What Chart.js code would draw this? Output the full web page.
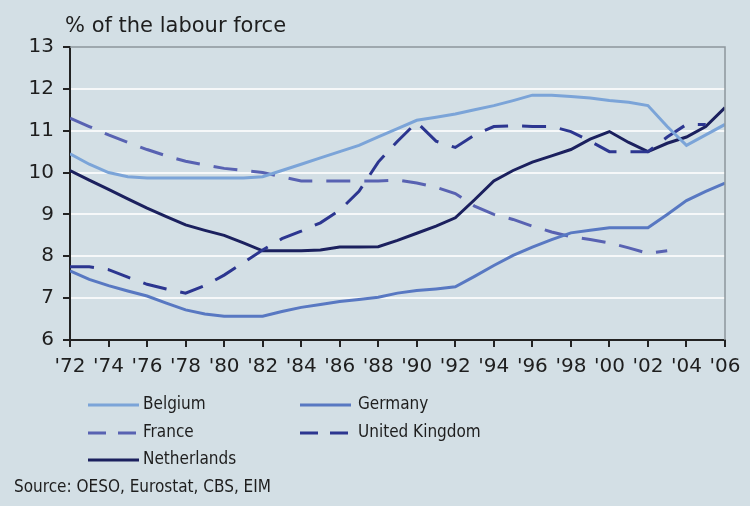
<!DOCTYPE html>
<html>
<head>
<meta charset="utf-8">
<title>Self-employment, % of the labour force</title>
<script src="https://cdn.jsdelivr.net/npm/chart.js@4.4.1/dist/chart.umd.min.js"></script>
<style>
    html, body { margin: 0; padding: 0; background: #d3dfe5; }
    #chart_container { width: 750px; height: 506px; }
</style>
</head>
<body>
<div id="chart_container"><canvas id="labour_chart" width="750" height="506"></canvas></div>
<script>
// years on the x axis (one point per year)
const years = [1972, 1973, 1974, 1975, 1976, 1977, 1978, 1979, 1980, 1981, 1982, 1983,
    1984, 1985, 1986, 1987, 1988, 1989, 1990, 1991, 1992, 1993, 1994, 1995, 1996, 1997,
    1998, 1999, 2000, 2001, 2002, 2003, 2004, 2005, 2006];

// % of the labour force per country
const belgium = [10.45, 10.2, 10.0, 9.9, 9.87, 9.87, 9.87, 9.87, 9.87, 9.87, 9.9, 10.05,
    10.2, 10.35, 10.5, 10.65, 10.85, 11.05, 11.25, 11.32, 11.4, 11.5, 11.6, 11.72, 11.85, 11.85,
    11.82, 11.78, 11.72, 11.68, 11.6, 11.1, 10.65, 10.9, 11.15];
const germany = [7.65, 7.45, 7.3, 7.17, 7.05, 6.88, 6.72, 6.62, 6.57, 6.57, 6.57, 6.68,
    6.78, 6.85, 6.92, 6.97, 7.02, 7.12, 7.18, 7.22, 7.27, 7.52, 7.78, 8.02, 8.22, 8.4,
    8.56, 8.62, 8.68, 8.68, 8.68, 9.0, 9.33, 9.55, 9.75];
const france = [11.3, 11.1, 10.9, 10.72, 10.55, 10.4, 10.27, 10.18, 10.1, 10.05, 10.0, 9.9,
    9.8, 9.8, 9.8, 9.8, 9.8, 9.82, 9.75, 9.65, 9.5, 9.2, 9.0, 8.88, 8.72, 8.58,
    8.47, 8.4, 8.32, 8.2, 8.07, 8.13, null, null, null];
const unitedKingdom = [7.75, 7.75, 7.68, 7.5, 7.33, 7.22, 7.12, 7.3, 7.55, 7.85, 8.15, 8.42,
    8.6, 8.8, 9.1, 9.55, 10.25, 10.75, 11.2, 10.75, 10.6, 10.9, 11.1, 11.12, 11.1, 11.1,
    10.98, 10.75, 10.5, 10.5, 10.5, 10.85, 11.15, 11.15, null];
const netherlands = [10.05, 9.82, 9.6, 9.37, 9.15, 8.95, 8.75, 8.62, 8.5, 8.32, 8.13, 8.13,
    8.13, 8.15, 8.22, 8.22, 8.23, 8.38, 8.55, 8.72, 8.92, 9.35, 9.8, 10.05, 10.25, 10.4,
    10.55, 10.8, 10.98, 10.72, 10.5, 10.7, 10.85, 11.1, 11.55];

const yTicks = [6, 7, 8, 9, 10, 11, 12, 13];
const chartTitle = "% of the labour force";
const sourceText = "Source: OESO, Eurostat, CBS, EIM";

const font_family = "'DejaVu Sans', Verdana, sans-serif";
const legend_family = "'DejaVu Sans Condensed', 'DejaVu Sans', sans-serif";
const dashPattern = [24, 14];

function toPoints(values) {
    return years.map((yr, i) => ({ x: yr, y: values[i] }));
}

function makeSet(label, values, color, dashed) {
    return {
        label: label,
        data: toPoints(values),
        borderColor: color,
        backgroundColor: color,
        borderWidth: 3,
        borderDash: dashed ? dashPattern : [],
        pointRadius: 0,
        tension: 0,
        spanGaps: false,
    };
}

// legend slots: [dataset index, line start x, text x, baseline y]
const legendSlots = [
    [0, 88, 143, 405],
    [1, 300, 358, 405],
    [2, 88, 143, 433],
    [3, 300, 358, 433],
    [4, 88, 143, 460],
];

// title above the axis, legend and source below it
const annotationsPlugin = {
    id: "annotations",
    afterDraw(chart) {
        const ctx = chart.ctx;
        const area = chart.chartArea;
        ctx.save();

        // grey frame on top and right of the plot
        ctx.strokeStyle = "#8d979c";
        ctx.lineWidth = 1.5;
        ctx.beginPath();
        ctx.moveTo(area.left, area.top);
        ctx.lineTo(area.right, area.top);
        ctx.lineTo(area.right, area.bottom);
        ctx.stroke();

        ctx.fillStyle = "#1e1e1e";
        ctx.font = "21px " + font_family;
        ctx.textBaseline = "middle";
        ctx.fillText(chartTitle, 65, 27);

        ctx.font = "17px " + legend_family;
        legendSlots.forEach(slot => {
            const ds = chart.data.datasets[slot[0]];
            ctx.strokeStyle = ds.borderColor;
            ctx.lineWidth = 3;
            ctx.setLineDash(ds.borderDash.length ? [18, 12] : []);
            ctx.beginPath();
            ctx.moveTo(slot[1], slot[3]);
            ctx.lineTo(slot[1] + 51, slot[3]);
            ctx.stroke();
            ctx.setLineDash([]);
            ctx.fillText(ds.label, slot[2], slot[3]);
        });
        ctx.fillText(sourceText, 14, 488);
        ctx.restore();
    }
};

const config = {
    type: "line",
    data: {
        datasets: [
            makeSet("Belgium", belgium, "#7ba4d8", false),
            makeSet("Germany", germany, "#5878c2", false),
            makeSet("France", france, "#5862b2", true),
            makeSet("United Kingdom", unitedKingdom, "#2c3690", true),
            makeSet("Netherlands", netherlands, "#1b205e", false),
        ],
    },
    options: {
        responsive: false,
        devicePixelRatio: 1,
        animation: false,
        layout: {
            padding: { left: 0, top: 47, right: 25, bottom: 0 },
        },
        plugins: {
            legend: { display: false },
            tooltip: { enabled: false },
            title: { display: false },
        },
        scales: {
            x: {
                type: "linear",
                min: 1972,
                max: 2006,
                afterFit: scale => { scale.height = 166; },
                ticks: {
                    stepSize: 2,
                    autoSkip: false,
                    maxRotation: 0,
                    padding: 8,
                    color: "#1e1e1e",
                    font: { family: font_family, size: 20 },
                    callback: v => "'" + String(v).slice(2),
                },
                grid: {
                    drawOnChartArea: false,
                    tickLength: 7,
                    tickColor: "#222",
                    lineWidth: 2,
                },
                border: { color: "#222", width: 2 },
            },
            y: {
                min: yTicks[0],
                max: yTicks[yTicks.length - 1],
                afterFit: scale => { scale.width = 70; },
                afterBuildTicks: scale => { scale.ticks = yTicks.map(v => ({ value: v })); },
                ticks: {
                    padding: 9,
                    color: "#1e1e1e",
                    font: { family: font_family, size: 20 },
                },
                grid: {
                    color: c => (c.tick.value > yTicks[0] && c.tick.value < yTicks[yTicks.length - 1]) ? "#f6f8f9" : "rgba(0,0,0,0)",
                    lineWidth: 2,
                    tickLength: 7,
                    tickColor: "#222",
                },
                border: { color: "#222", width: 2 },
            },
        },
    },
    plugins: [annotationsPlugin],
};

window.labour_chart = new Chart(document.getElementById("labour_chart"), config);
</script>
</body>
</html>
